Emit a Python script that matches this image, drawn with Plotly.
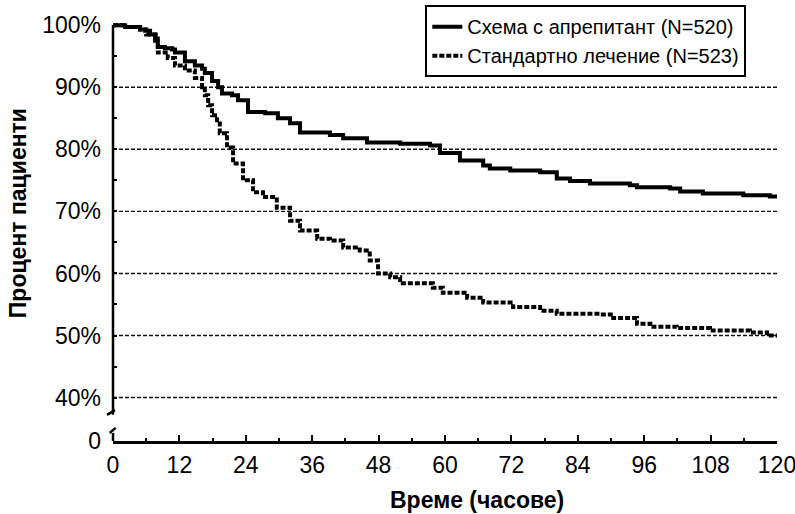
import plotly.graph_objects as go

# Time (hours) and percent of patients
apr_hours = [0, 2.2, 4.9, 5.8, 6.7, 7.6, 8.1, 9.4, 10.7, 11.2, 13.0, 14.8, 16.1, 16.6, 17.9, 19.0,
             19.7, 21.5, 22.6, 24.4, 27.5, 29.8, 32.0, 33.8, 39.2, 41.6, 45.9, 51.9, 57.3, 59.1,
             62.7, 66.9, 68.1, 71.8, 77.2, 80.2, 82.6, 86.2, 93.4, 94.7, 100.7, 102.5, 106.6,
             111.5, 113.9, 118.7, 120]
apr_pct = [100, 99.7, 99.3, 99.1, 98.5, 97.5, 96.5, 96.3, 96.1, 95.6, 94.2, 93.5, 93.0, 92.3, 91.0, 90.0,
           89.0, 88.7, 87.9, 86.0, 85.8, 85.0, 84.2, 82.7, 82.3, 81.8, 81.1, 80.9, 80.6, 79.4,
           78.2, 77.4, 76.9, 76.6, 76.3, 75.3, 74.9, 74.5, 74.2, 73.9, 73.7, 73.2, 72.9,
           72.9, 72.6, 72.4, 72.4]

std_hours = [0, 2.2, 4.9, 6.0, 8.1, 9.9, 11.2, 13.0, 14.8, 16.1, 16.6, 17.2, 17.9, 18.8, 19.3, 20.6,
             21.7, 23.5, 25.3, 27.1, 29.6, 32.0, 33.8, 36.9, 39.2, 41.6, 44.6, 46.4, 47.9, 50.1,
             51.9, 57.8, 59.6, 64.0, 66.9, 72.3, 77.2, 80.2, 88.0, 90.4, 94.7, 97.1, 101.9,
             107.9, 115.1, 118.2, 120]
std_pct = [100, 99.7, 99.3, 98.5, 95.6, 94.7, 93.5, 92.7, 91.5, 90.0, 88.7, 87.1, 85.5, 84.7, 82.6, 80.3,
           77.7, 75.0, 73.1, 72.3, 70.6, 68.5, 66.9, 65.6, 65.3, 64.2, 63.7, 62.1, 60.0, 59.4,
           58.4, 57.7, 56.9, 56.1, 55.3, 54.6, 54.0, 53.5, 53.4, 52.8, 51.9, 51.4, 51.2,
           50.8, 50.5, 50.0, 50.0]

series_names = ["Схема с апрепитант (N=520)", "Стандартно лечение (N=523)"]

x_ticks = [0, 12, 24, 36, 48, 60, 72, 84, 96, 108, 120]
y_tick_vals = [33, 40, 50, 60, 70, 80, 90, 100]
y_tick_text = ["0", "40%", "50%", "60%", "70%", "80%", "90%", "100%"]
grid_vals = [40, 50, 60, 70, 80, 90]

FONT = "Liberation Sans, Arial, sans-serif"

fig = go.Figure()
fig.add_trace(go.Scatter(x=apr_hours, y=apr_pct, mode="lines", name=series_names[0],
                         line=dict(color="black", width=4, shape="hv")))
fig.add_trace(go.Scatter(x=std_hours, y=std_pct, mode="lines", name=series_names[1],
                         line=dict(color="black", width=4, dash="5px,2px", shape="hv")))

shapes = []
for g in grid_vals:
    shapes.append(dict(type="line", xref="paper", yref="y", x0=0, x1=1, y0=g, y1=g,
                       line=dict(color="#111", width=1.4, dash="4px,2px"), layer="below"))
# broken y axis line
shapes.append(dict(type="line", xref="paper", yref="paper", x0=0, x1=0, y0=0.062, y1=0.986,
                   line=dict(color="black", width=2.5)))
# break marks
shapes.append(dict(type="line", xref="paper", yref="paper", x0=-0.009, x1=0.003, y0=0.062, y1=0.073,
                   line=dict(color="black", width=2.5)))
shapes.append(dict(type="line", xref="paper", yref="paper", x0=-0.005, x1=0.004, y0=0.019, y1=0.031,
                   line=dict(color="black", width=2.5)))
shapes.append(dict(type="line", xref="paper", yref="paper", x0=0, x1=0, y0=0, y1=0.019,
                   line=dict(color="black", width=2.5)))

annotations = [
    dict(text="<b>Процент пациенти</b>", xref="paper", yref="paper", x=-0.143, y=0.54,
         textangle=-90, showarrow=False, font=dict(size=23, family=FONT),
         xanchor="center", yanchor="middle"),
    dict(text="<b>Време (часове)</b>", xref="paper", yref="paper", x=0.548, y=-0.14,
         showarrow=False, font=dict(size=23, family=FONT), xanchor="center", yanchor="middle"),
]

fig.update_layout(
    width=795, height=514,
    margin=dict(l=113, r=18, t=19, b=73, autoexpand=False),
    paper_bgcolor="white", plot_bgcolor="white",
    font=dict(family=FONT, color="black", size=23),
    shapes=shapes,
    annotations=annotations,
    showlegend=True,
    legend=dict(x=0.535, y=0.99, xref="container", yref="container",
                xanchor="left", yanchor="top",
                bordercolor="black", borderwidth=2, bgcolor="white",
                font=dict(size=20, family=FONT), tracegroupgap=0, itemwidth=30),
    xaxis=dict(range=[0, 120], tickvals=x_ticks, showgrid=False, zeroline=False, automargin=False,
               showline=True, linecolor="black", linewidth=2.5,
               ticks="inside", ticklen=6, tickwidth=2, tickcolor="black",
               minor=dict(ticks="inside", ticklen=3, tickwidth=2, tickcolor="black", dtick=6, tick0=0),
               tickfont=dict(size=23), ticklabelstandoff=2, ticklabeloverflow="allow"),
    yaxis=dict(range=[33, 101], tickvals=y_tick_vals, ticktext=y_tick_text, automargin=False,
               showgrid=False, zeroline=False, showline=False,
               ticks="inside", ticklen=4, tickwidth=2, tickcolor="black",
               minor=dict(ticks="inside", ticklen=4, tickwidth=2, tickcolor="black",
                          tickvals=[45, 55, 65, 75, 85, 95]),
               tickfont=dict(size=23), ticklabelstandoff=11),
)

fig.write_html("out.html", config={"displayModeBar": False},
               post_script="document.body.style.margin='0';document.body.style.overflow='hidden';")
